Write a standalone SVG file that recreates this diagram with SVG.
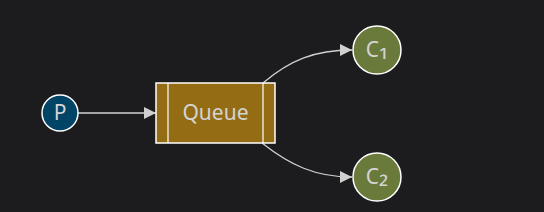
<svg xmlns="http://www.w3.org/2000/svg" width="544" height="212" viewBox="0 0 544 212">
<style>
.edge{fill:none;stroke:#d0d0d0;stroke-width:1.3}
.lbl{font-family:"Noto Sans","Open Sans",sans-serif;fill:#d4d4d4;text-anchor:middle;dominant-baseline:central}
.sub{font-size:26px}
.nb{stroke:#ffffff;stroke-width:1.5}
</style>
<defs>
<marker id="ah" viewBox="0 0 10 10" refX="10" refY="5" markerWidth="12" markerHeight="12" markerUnits="userSpaceOnUse" orient="auto">
<path d="M0,0 L10,5 L0,10 z" fill="#d0d0d0"/>
</marker>
</defs>
<rect width="544" height="212" fill="#1c1c1e"/>
<g id="connectors">
<path class="edge" d="M78,113 L156,113" marker-end="url(#ah)"/>
<path class="edge" d="M263,83 C290,60 315,50 352,50" marker-end="url(#ah)"/>
<path class="edge" d="M262,143 C290,165 315,177 352,177" marker-end="url(#ah)"/>
</g>
<g id="P">
<circle class="nb" cx="60" cy="113" r="18" fill="#004466"/>
<text class="lbl" x="60" y="112" font-size="21">P</text>
</g>
<g id="Queue">
<rect class="nb" x="156" y="83" width="119" height="60" fill="#936c14" stroke-width="1.2"/>
<line x1="168" y1="83" x2="168" y2="143" stroke="#ffffff" stroke-width="1.2"/>
<line x1="263" y1="83" x2="263" y2="143" stroke="#ffffff" stroke-width="1.2"/>
<text class="lbl" x="215.5" y="112" font-size="21">Queue</text>
</g>
<g id="C1">
<circle class="nb" cx="377" cy="50" r="24" fill="#6a7a3a"/>
<text class="lbl" x="377" y="49" font-size="21">C<tspan class="sub" dy="-3">₁</tspan></text>
</g>
<g id="C2">
<circle class="nb" cx="377" cy="177" r="24" fill="#6a7a3a"/>
<text class="lbl" x="377" y="176" font-size="21">C<tspan class="sub" dy="-3">₂</tspan></text>
</g>
</svg>
